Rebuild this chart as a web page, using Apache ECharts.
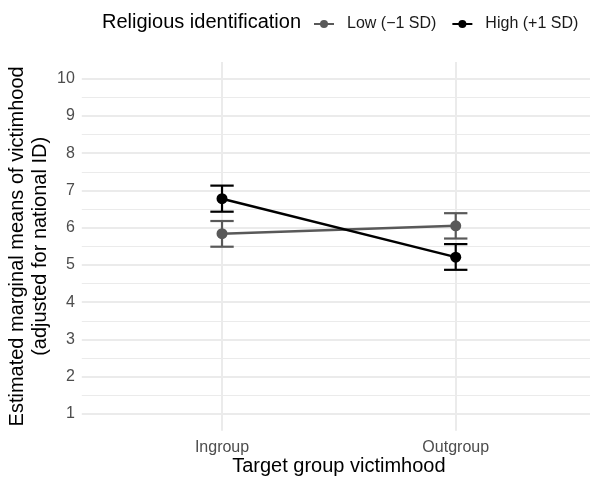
<!DOCTYPE html>
<html>
<head>
<meta charset="utf-8">
<script src="https://cdn.jsdelivr.net/npm/echarts@6/dist/echarts.min.js"></script>
<style>
  html, body { margin: 0; padding: 0; background: #ffffff; }
  #chart { width: 590px; height: 480px; }
</style>
</head>
<body>
<div id="chart"></div>
<script>
// Estimated marginal means of victimhood by target group, split by religious identification
const categories = ['Ingroup', 'Outgroup'];
const groupNames = ['Low (\u22121 SD)', 'High (+1 SD)'];

const lowMeans  = [5.84, 6.05];
const lowLower  = [5.49, 5.71];
const lowUpper  = [6.18, 6.39];

const highMeans = [6.78, 5.21];
const highLower = [6.43, 4.87];
const highUpper = [7.13, 5.56];

const yMin = 1;
const yMax = 10;

const FONT = "'Liberation Sans', Arial, Helvetica, sans-serif";
const LOW_COLOR = '#595959';
const HIGH_COLOR = '#000000';

// categories sit at positions 1 and 2 on a numeric x scale
const xPos = categories.map((c, i) => i + 1);

function pointData(means) {
  return means.map((m, i) => [xPos[i], m]);
}
function barData(lower, upper) {
  return lower.map((lo, i) => [xPos[i], lo, upper[i]]);
}

function errorBar(params, api) {
  const x = api.value(0);
  const top = api.coord([x, api.value(2)]);
  const bot = api.coord([x, api.value(1)]);
  const hw = api.size([0.05, 0])[0];
  const style = { stroke: api.visual('color'), lineWidth: 2.2, fill: null };
  return {
    type: 'group',
    children: [
      { type: 'line', shape: { x1: top[0], y1: top[1], x2: bot[0], y2: bot[1] }, style },
      { type: 'line', shape: { x1: top[0] - hw, y1: top[1], x2: top[0] + hw, y2: top[1] }, style },
      { type: 'line', shape: { x1: bot[0] - hw, y1: bot[1], x2: bot[0] + hw, y2: bot[1] }, style }
    ]
  };
}

// the panel shows x from 0.4 to 2.6 (discrete positions 1 and 2 plus padding)
const unit = 233.7;
const panelLeft = 81.8;
const panelWidth = 2.2 * unit;
// the gridline/label grid spans 0..3 so that ticks fall on whole numbers
const outerLeft = panelLeft - 0.4 * unit;
const outerWidth = 3 * unit;

const chart = echarts.init(document.getElementById('chart'), null, { renderer: 'canvas' });

chart.setOption({
  backgroundColor: '#ffffff',
  textStyle: { fontFamily: FONT },
  animation: false,
  title: {
    text: 'Religious identification',
    left: 97,
    top: 7,
    textStyle: { fontFamily: FONT, fontSize: 20, fontWeight: 'normal', color: '#000000' }
  },
  legend: {
    data: groupNames,
    left: 308,
    top: 11,
    itemWidth: 20,
    itemHeight: 10,
    itemGap: 15,
    textStyle: { fontFamily: FONT, fontSize: 16, color: '#1a1a1a', padding: [0, 0, 0, 8] }
  },
  grid: [
    // vertical grid lines and category labels
    { left: outerLeft, width: outerWidth, top: 61.9, height: 368.9, containLabel: false, outerBoundsMode: 'none' },
    // plotting panel, value range 1..10
    { left: panelLeft, width: panelWidth, top: 78.7, height: 335.3, containLabel: false, outerBoundsMode: 'none' }
  ],
  xAxis: [
    {
      gridIndex: 0,
      type: 'value',
      min: 0,
      max: 3,
      interval: 1,
      axisLine: { show: false },
      axisTick: { show: false },
      splitLine: { show: true, lineStyle: { color: '#ebebeb', width: 2 } },
      axisLabel: {
        fontFamily: FONT,
        fontSize: 16,
        color: '#4d4d4d',
        margin: 9,
        formatter: v => (v >= 1 && v <= categories.length ? categories[v - 1] : '')
      },
      name: 'Target group victimhood',
      nameLocation: 'middle',
      nameGap: 26,
      nameMoveOverlap: false,
      nameTextStyle: { fontFamily: FONT, fontSize: 20, color: '#000000' }
    },
    {
      gridIndex: 1,
      type: 'value',
      min: 0.4,
      max: 2.6,
      show: false,
      splitLine: { show: false }
    }
  ],
  yAxis: [
    {
      gridIndex: 0,
      type: 'value',
      min: 0,
      max: 1,
      show: false,
      splitLine: { show: false }
    },
    {
      gridIndex: 1,
      type: 'value',
      min: yMin,
      max: yMax,
      interval: 1,
      axisLine: { show: false },
      axisTick: { show: false },
      minorTick: { show: false, splitNumber: 2 },
      splitLine: { show: true, lineStyle: { color: '#ebebeb', width: 2 } },
      minorSplitLine: { show: true, lineStyle: { color: '#ebebeb', width: 1 } },
      axisLabel: { fontFamily: FONT, fontSize: 16, color: '#4d4d4d', margin: 7 },
      name: 'Estimated marginal means of victimhood\n(adjusted for national ID)',
      nameLocation: 'middle',
      nameRotate: 90,
      nameGap: 30,
      nameMoveOverlap: false,
      nameTextStyle: { fontFamily: FONT, fontSize: 20, color: '#000000', lineHeight: 23 }
    }
  ],
  series: [
    {
      name: groupNames[0] + ' CI',
      type: 'custom',
      xAxisIndex: 1,
      yAxisIndex: 1,
      renderItem: errorBar,
      itemStyle: { color: LOW_COLOR },
      data: barData(lowLower, lowUpper),
      z: 2
    },
    {
      name: groupNames[0],
      type: 'line',
      xAxisIndex: 1,
      yAxisIndex: 1,
      data: pointData(lowMeans),
      symbol: 'circle',
      symbolSize: 11,
      color: LOW_COLOR,
      lineStyle: { width: 2.5, color: LOW_COLOR },
      itemStyle: { color: LOW_COLOR },
      z: 3
    },
    {
      name: groupNames[1] + ' CI',
      type: 'custom',
      xAxisIndex: 1,
      yAxisIndex: 1,
      renderItem: errorBar,
      itemStyle: { color: HIGH_COLOR },
      data: barData(highLower, highUpper),
      z: 4
    },
    {
      name: groupNames[1],
      type: 'line',
      xAxisIndex: 1,
      yAxisIndex: 1,
      data: pointData(highMeans),
      symbol: 'circle',
      symbolSize: 11,
      color: HIGH_COLOR,
      lineStyle: { width: 2.5, color: HIGH_COLOR },
      itemStyle: { color: HIGH_COLOR },
      z: 5
    }
  ]
});
</script>
</body>
</html>
